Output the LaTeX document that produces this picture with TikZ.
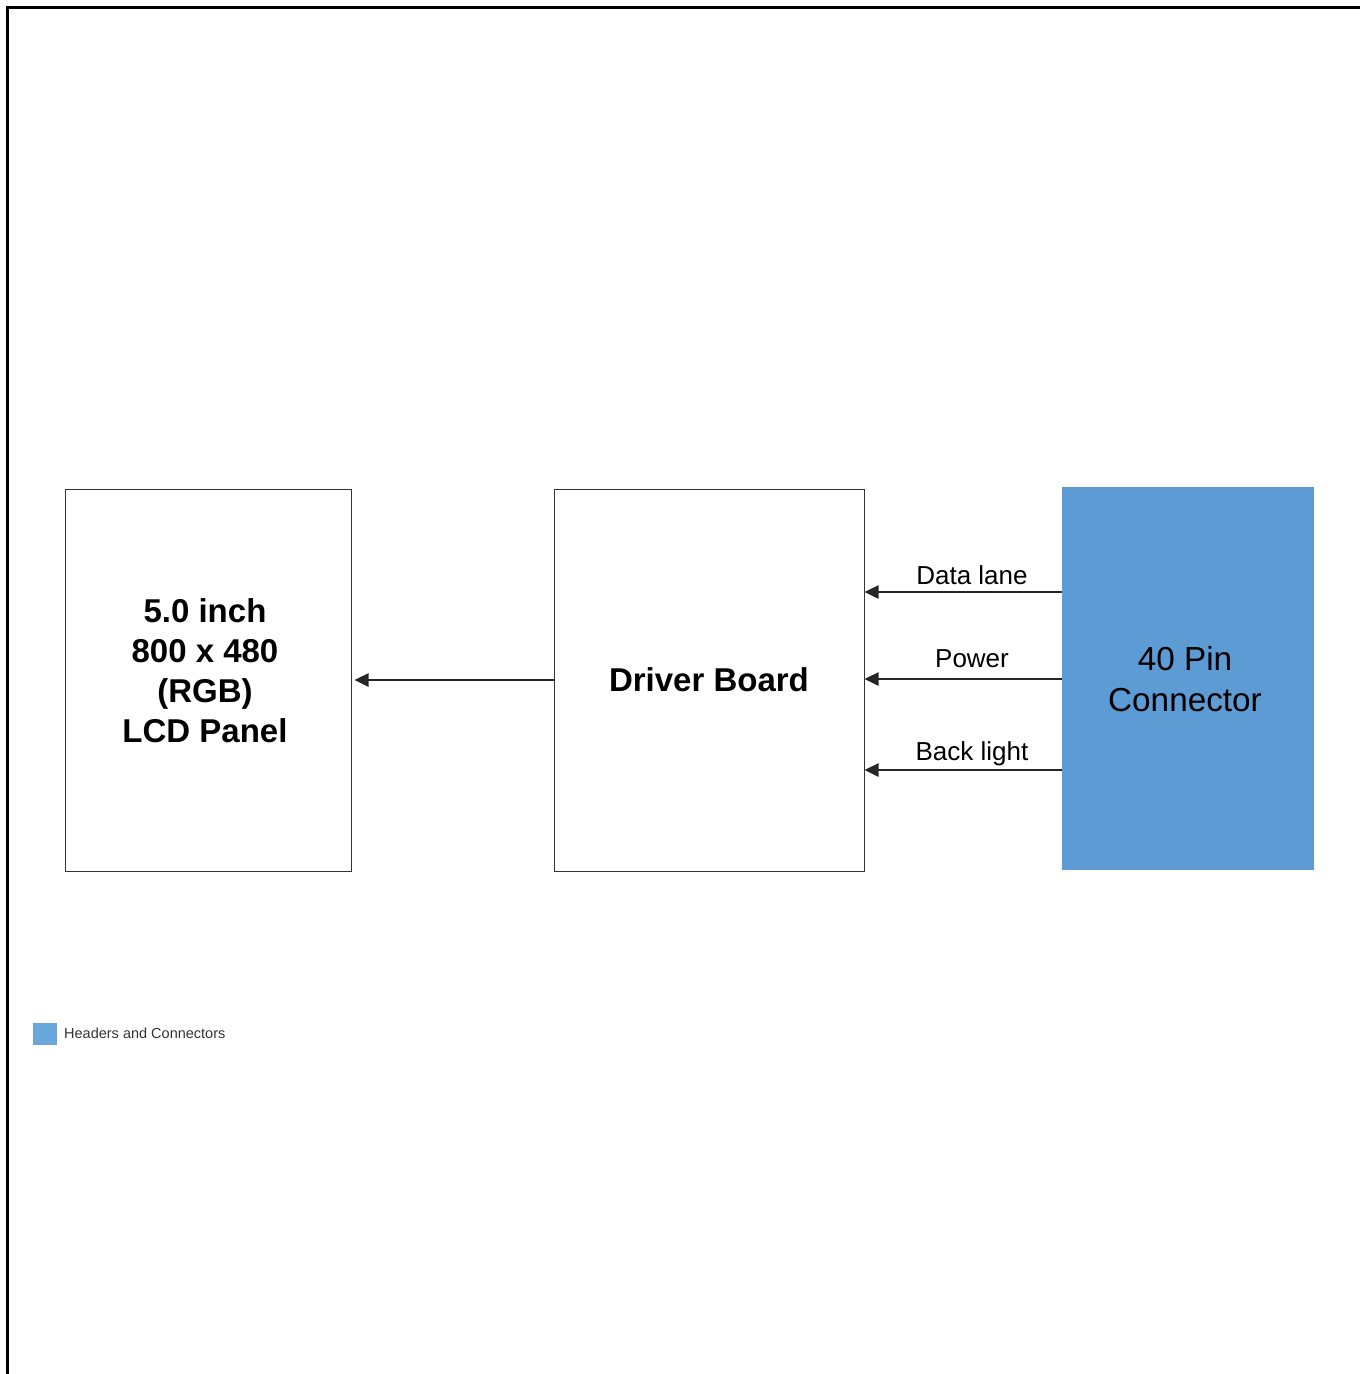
\documentclass[tikz,border=0pt]{standalone}
\usepackage{fontspec}
\setmainfont{Liberation Sans}
\usetikzlibrary{arrows.meta}
\definecolor{conncol}{HTML}{5D9BD4}
\definecolor{legcol}{HTML}{6AA7DC}
\definecolor{txtgrey}{HTML}{333333}
\begin{document}
\begin{tikzpicture}[x=1pt,y=-1pt,
  block/.style={draw=black!80,line width=1pt,rectangle,inner sep=0pt,align=center},
  conn/.style={fill=conncol,rectangle,inner sep=0pt,align=center},
  arr/.style={line width=2.5pt,draw=black!85,-{Triangle[length=14pt,width=13pt]}},
  lbl/.style={font=\fontsize{26}{30}\selectfont,inner sep=0pt}]
\useasboundingbox (0,0) rectangle (1360,1374);
\draw[line width=3pt] (7,1374) -- (7,7) -- (1360,7);
\node[block,minimum width=286pt,minimum height=382pt] (lcd) at (208,680) {};
\node[align=center,inner sep=0pt,font=\bfseries\fontsize{33}{40}\selectfont] (lcdtxt) at (205,670.5) {5.0 inch\\800 x 480\\(RGB)\\LCD Panel};
\node[block,minimum width=310pt,minimum height=382pt,font=\bfseries\fontsize{33}{40}\selectfont] (drv) at (709,680) {Driver Board};
\node[conn,minimum width=252pt,minimum height=383pt] (con) at (1188,678.5) {};
\node[align=center,inner sep=0pt,font=\fontsize{33.3}{41}\selectfont] (contxt) at (1185,679.5) {40 Pin\\Connector};
\draw[arr] (drv.west) -- ([xshift=3pt]lcd.east);
\draw[arr] ([yshift=86.5pt]con.west) coordinate (s1) -- (s1 -| drv.east);
\draw[arr] ([yshift=-0.5pt]con.west) coordinate (s2) -- (s2 -| drv.east);
\draw[arr] ([yshift=-91.5pt]con.west) coordinate (s3) -- (s3 -| drv.east);
\node[lbl] (l1) at (972,575) {Data lane};
\node[lbl] (l2) at (972,659) {Power};
\node[lbl] (l3) at (972,753.5) {Back light};
\node[fill=legcol,minimum width=24pt,minimum height=22pt,inner sep=0pt] (sw) at (45,1034) {};
\node[anchor=west,inner sep=0pt,text=txtgrey,font=\fontsize{14.5}{17}\selectfont] (lg) at (64,1033) {Headers and Connectors};
\end{tikzpicture}
\end{document}
